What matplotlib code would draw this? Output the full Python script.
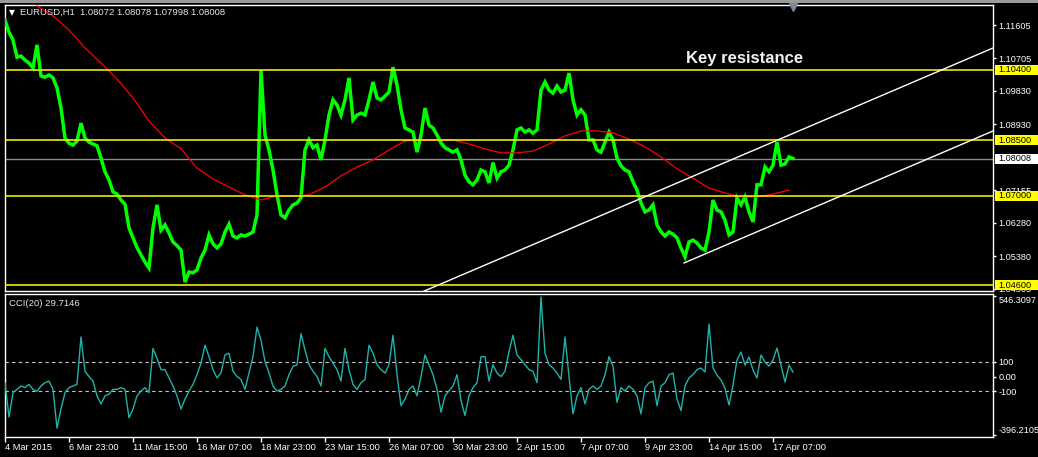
import matplotlib
matplotlib.use("Agg")
import matplotlib.pyplot as plt
import matplotlib.transforms as mtrans
from matplotlib.patches import Rectangle

price_step = 4
price = [
	1.1174, 1.1141, 1.1120, 1.1074, 1.1077, 1.1066, 1.1058, 1.1045, 1.1107, 1.1023,
	1.1020, 1.1026, 1.1018, 1.0991, 1.0937, 1.0856, 1.0842, 1.0837, 1.0848, 1.0896,
	1.0856, 1.0845, 1.0840, 1.0835, 1.0802, 1.0765, 1.0743, 1.0711, 1.0705, 1.0689,
	1.0678, 1.0614, 1.0587, 1.0561, 1.0541, 1.0522, 1.0506, 1.0614, 1.0676, 1.0608,
	1.0622, 1.0600, 1.0576, 1.0566, 1.0554, 1.0468, 1.0495, 1.0493, 1.0501, 1.0533,
	1.0554, 1.0595, 1.0571, 1.0560, 1.0571, 1.0603, 1.0624, 1.0592, 1.0587, 1.0595,
	1.0592, 1.0597, 1.0603, 1.0649, 1.1039, 1.0864, 1.0824, 1.0770, 1.0703, 1.0649,
	1.0641, 1.0662, 1.0676, 1.0681, 1.0695, 1.0824, 1.0851, 1.0830, 1.0837, 1.0797,
	1.0851, 1.0918, 1.0959, 1.0945, 1.0918, 1.0959, 1.1018, 1.0905, 1.0918, 1.0923,
	1.0918, 1.0959, 1.1007, 1.0964, 1.0959, 1.0969, 1.0980, 1.1047, 1.0999, 1.0932,
	1.0883, 1.0878, 1.0872, 1.0818, 1.0864, 1.0937, 1.0891, 1.0883, 1.0864, 1.0843,
	1.0830, 1.0824, 1.0818, 1.0824, 1.0797, 1.0756, 1.0738, 1.0730, 1.0743, 1.0770,
	1.0765, 1.0735, 1.0790, 1.0748, 1.0765, 1.0770, 1.0783, 1.0824, 1.0878, 1.0883,
	1.0872, 1.0878, 1.0869, 1.0878, 1.0985, 1.1007, 1.0985, 1.0977, 1.0996, 1.0980,
	1.0985, 1.1031, 1.0959, 1.0918, 1.0932, 1.0918, 1.0851, 1.0851, 1.0824, 1.0818,
	1.0845, 1.0872, 1.0851, 1.0802, 1.0781, 1.0770, 1.0765, 1.0738, 1.0716, 1.0681,
	1.0657, 1.0662, 1.0676, 1.0622, 1.0603, 1.0592, 1.0603, 1.0597, 1.0587, 1.0560,
	1.0536, 1.0576, 1.0581, 1.0573, 1.0560, 1.0554, 1.0603, 1.0689, 1.0662, 1.0657,
	1.0635, 1.0595, 1.0603, 1.0694, 1.0676, 1.0697, 1.0657, 1.0630, 1.0730, 1.0730,
	1.0778, 1.0765, 1.0783, 1.0845, 1.0783, 1.0786, 1.0805, 1.0801,
]

# red moving average, starts at bar 32, every 16 bars
ma_start = 32
ma_step = 16
ma = [
	1.1212, 1.1185, 1.1147, 1.1099, 1.1058, 1.1015, 1.0964, 1.0902, 1.0856, 1.0827,
	1.0775, 1.0746, 1.0724, 1.0703, 1.0689, 1.0700, 1.0700, 1.0703, 1.0724, 1.0754,
	1.0778, 1.0797, 1.0824, 1.0848, 1.0851, 1.0851, 1.0851, 1.0840, 1.0827, 1.0816,
	1.0816, 1.0821, 1.0840, 1.0862, 1.0875, 1.0875, 1.0870, 1.0853, 1.0832, 1.0805,
	1.0773, 1.0748, 1.0721, 1.0708, 1.0697, 1.0697, 1.0705, 1.0716,
]

# CCI(20), every 4 bars
cci_step = 4
cci = [
	-42, -275, -109, -87, -64, -75, -53, -87, -100, -64,
	-42, -31, -87, -350, -220, -109, -75, -64, -53, 269,
	36, 0, -31, -131, -186, -131, -120, -87, -87, -75,
	-87, -280, -220, -131, -98, -75, -109, 191, 124, 47,
	47, -9, -64, -131, -220, -153, -98, -53, 13, 91,
	213, 135, 47, -9, 24, 147, 158, 36, 0, -20,
	-87, 24, 135, 335, 246, 102, 24, -64, -98, -87,
	-64, 13, 69, 80, 291, 180, 80, 36, 0, -64,
	191, 135, 91, 47, -31, 191, 47, -53, -87, -42,
	-20, 213, 158, 80, 47, 24, 80, 280, 13, -198,
	-153, -87, -64, -131, 0, 147, 80, 13, -87, -242,
	-131, -98, -64, 13, -164, -264, -131, -75, -42, 135,
	135, -31, 80, 24, 0, 36, 169, 280, 147, 113,
	80, 47, 36, -42, 540, 158, 80, 58, 24, -20,
	269, 0, -253, -131, -75, -186, -87, -64, -87, -64,
	13, 135, 69, -175, -75, -98, -64, -87, -131, -253,
	-75, -42, -31, -198, -64, -42, 13, 24, -153, -231,
	-64, -9, 13, 47, 58, 31, 356, 58, 10, -24,
	-78, -193, -58, 112, 166, 78, 132, 44, -10, 146,
	98, 71, 112, 193, 78, -37, 78, 30,
]

levels = [1.10400, 1.08500, 1.07000, 1.04600]
bid = 1.08008
# trend lines as (bar, price) anchor pairs
trend_upper = [(417, 1.04412), (988, 1.10986)]
trend_lower = [(679, 1.05194), (988, 1.08750)]

price_ticks = [1.11605, 1.10705, 1.09830, 1.08930, 1.07155, 1.06280, 1.05380, 1.04505]
cci_ticks = [546.3097, 100, 0, -100, -396.2105]
cci_tick_labels = ["546.3097", "100", "0.00", "-100", "-396.2105"]
date_labels = ["4 Mar 2015", "6 Mar 23:00", "11 Mar 15:00", "16 Mar 07:00", "18 Mar 23:00",
	"23 Mar 15:00", "26 Mar 07:00", "30 Mar 23:00", "2 Apr 15:00", "7 Apr 07:00",
	"9 Apr 23:00", "14 Apr 15:00", "17 Apr 07:00"]
bars_per_label = 64

W, H = 1038, 457
FONT = "Liberation Sans"
FG = "#ffffff"
FS = 6.6


def px_axes(fig, l, t, r, b):
	"""axes placed by pixel box (left, top, right, bottom)"""
	return fig.add_axes([l / W, 1 - b / H, (r - l) / W, (b - t) / H])


def style_axes(ax):
	ax.set_facecolor("black")
	for s in ax.spines.values():
		s.set_color(FG)
		s.set_linewidth(1)
	ax.set_xlim(0, 988)


def level_box(ax, y, text, fc):
	## highlighted price label on the right scale
	tr = mtrans.blended_transform_factory(ax.transAxes, ax.transData)
	h = 10 / 3711.6
	ax.add_patch(Rectangle((1 + 2 / 988, y - h / 2), 43 / 988, h, transform=tr,
		facecolor=fc, edgecolor="none", clip_on=False, zorder=10))
	ax.text(1 + 5 / 988, y, text, transform=tr, color="black", fontsize=FS, family=FONT,
		va="center", ha="left", clip_on=False, zorder=11)


def main():
	fig = plt.figure(figsize=(W / 100, H / 100), dpi=100, facecolor="black")
	fig.patches.append(Rectangle((0, 1 - 3 / H), 1, 3 / H, transform=fig.transFigure,
		facecolor="#9a9a9a", edgecolor="none"))

	ax = px_axes(fig, 5, 5, 993, 291)
	style_axes(ax)
	ax.set_ylim(1.04439, 1.12144)

	xs = [i * price_step for i in range(len(price))]
	ax.axhline(bid, color="#8c8c8c", lw=1, zorder=2)
	ax.plot(xs, price, color="#00ff00", lw=2.5, zorder=3, solid_joinstyle="miter")
	xm = [ma_start + i * ma_step for i in range(len(ma))]
	ax.plot(xm, ma, color="#ff0000", lw=0.9, zorder=4)
	for lv in levels:
		ax.axhline(lv, color="#ffff00", lw=1.1, zorder=5)
	for tl in (trend_upper, trend_lower):
		(x0, y0), (x1, y1) = tl
		ax.plot([x0, x1], [y0, y1], color=FG, lw=1, zorder=6)

	ax.set_xticks([])
	ax.yaxis.tick_right()
	ax.set_yticks(price_ticks)
	ax.set_yticklabels(["%.5f" % v for v in price_ticks], family=FONT)
	ax.tick_params(axis="y", colors=FG, length=2.2, width=1, labelsize=FS, pad=2)

	for lv in levels:
		level_box(ax, lv, "%.5f" % lv, "#ffff00")
	level_box(ax, bid, "%.5f" % bid, "#ffffff")

	# chart shift marker
	tr = mtrans.blended_transform_factory(ax.transData, ax.transAxes)
	ax.plot([788], [0.993], transform=tr, marker="v", ms=6, color="#7a8898",
		clip_on=False, zorder=12)

	fig.text(11.5 / W, 1 - 12.5 / H, "\u25bc", color=FG, fontsize=5.5, family="DejaVu Sans",
		ha="center", va="center")
	fig.text(20 / W, 1 - 12.5 / H, "EURUSD,H1  1.08072 1.08078 1.07998 1.08008",
		color="#e6e6e6", fontsize=FS + 0.2, family=FONT, va="center")
	fig.text(745 / W, 1 - 58 / H, "Key resistance", color="#f2f2f2", fontsize=12,
		fontweight="bold", family=FONT, ha="center", va="center")

	# CCI panel
	cx = px_axes(fig, 5, 294, 993, 437)
	style_axes(cx)
	cx.set_ylim(-410, 560)
	xc = [i * cci_step for i in range(len(cci))]
	cx.plot(xc, cci, color="#20b2aa", lw=1, zorder=3)
	for lv in (100, -100):
		cx.axhline(lv, color="#c8c8c8", lw=0.8, ls=(0, (3, 3)), zorder=2)

	cx.yaxis.tick_right()
	cx.set_yticks(cci_ticks)
	cx.set_yticklabels(cci_tick_labels, family=FONT)
	cx.tick_params(axis="y", colors=FG, length=2.2, width=1, labelsize=FS, pad=2)
	lbls = cx.get_yticklabels()
	lbls[0].set_va("top")
	lbls[-1].set_va("bottom")

	cx.set_xticks([i * bars_per_label for i in range(len(date_labels))])
	cx.set_xticklabels(date_labels, ha="left", family=FONT)
	cx.tick_params(axis="x", colors=FG, length=3.5, width=1, labelsize=FS + 0.1, pad=1)

	fig.text(9 / W, 1 - 304 / H, "CCI(20) 29.7146", color="#e6e6e6", fontsize=FS + 0.2,
		family=FONT, va="center")

	fig.savefig("out.png", dpi=100, facecolor="black")


if __name__ == "__main__":
	main()
